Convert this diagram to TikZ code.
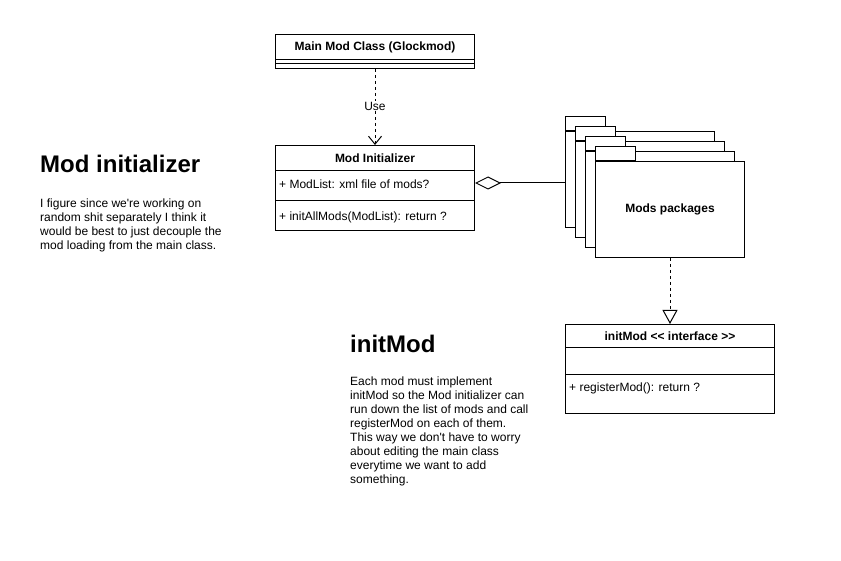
\documentclass[tikz,border=0pt]{standalone}
\usepackage{fontspec}
\setmainfont{Liberation Sans}[Ligatures=TeXOff]
\usetikzlibrary{arrows.meta}
\begin{document}
\begin{tikzpicture}[x=1pt,y=1pt,
  txt/.style={font=\fontsize{12}{14}\selectfont, inner sep=0pt},
  ttl/.style={font=\fontsize{12}{14}\selectfont\bfseries, inner sep=0pt},
  head/.style={font=\fontsize{24}{28}\selectfont\bfseries, inner sep=0pt},
  box/.style={draw, line width=1pt, fill=white, inner sep=0pt, anchor=north west},
  sep/.style={line width=1pt},
  dsh/.style={line width=1pt, dash pattern=on 3pt off 3pt}]
\useasboundingbox (0,0) rectangle (841,-561);

% Main Mod Class
\node[box, minimum width=199pt, minimum height=34pt] (main) at (275,-34) {};
\draw[sep] ([yshift=-26pt]main.north west) -- ([yshift=-26pt]main.north east);
\draw[sep] ([yshift=-30pt]main.north west) -- ([yshift=-30pt]main.north east);
\node[ttl] (maint) at ([yshift=-13pt]main.north) {Main Mod Class (Glockmod)};

% Mod Initializer
\node[box, minimum width=199pt, minimum height=85pt] (mi) at (275,-145) {};
\draw[sep] ([yshift=-26pt]mi.north west) -- ([yshift=-26pt]mi.north east);
\draw[sep] ([yshift=-56pt]mi.north west) -- ([yshift=-56pt]mi.north east);
\node[ttl] (mit) at ([yshift=-13pt]mi.north) {Mod Initializer};
\node[txt, anchor=west] (mia) at (279,-184) {+ ModList: xml file of mods?};
\node[txt, anchor=west] (mim) at (279,-217) {+ initAllMods(ModList): return ?};

% Use arrow
\draw[dsh, -{Straight Barb[length=8pt,width=13pt]}] (main.south) -- (mi.north)
  node[txt, fill=white, inner sep=1pt, pos=0.49] (use) {Use};

% Folders
\foreach \k in {0,...,3} {
  \draw[line width=1pt, fill=white] (565+10*\k,-131-10*\k) rectangle (605+10*\k,-117-10*\k);
  \node[box, minimum width=149pt, minimum height=96pt] (f\k) at (565+10*\k,-131-10*\k) {};
}
\node[ttl] (pkgt) at (f3.center) {Mods packages};

% Aggregation
\coordinate (aggy) at (0,-183);
\draw[line width=1pt, {Diamond[open,length=26pt,width=13pt]}-] (mi.east |- aggy) -- (f0.west |- aggy);

% Interface
\node[box, minimum width=209pt, minimum height=89pt] (im) at (565,-324) {};
\draw[sep] ([yshift=-24pt]im.north west) -- ([yshift=-24pt]im.north east);
\draw[sep] ([yshift=-51pt]im.north west) -- ([yshift=-51pt]im.north east);
\node[ttl] (imt) at ([yshift=-12pt]im.north) {initMod << interface >>};
\node[txt, anchor=west] (imm) at (569,-388) {+ registerMod(): return ?};

% Realization
\draw[dsh, -{Triangle[open,length=14pt,width=15pt]}] (f3.south) -- (im.north);

% Texts
\node[head, anchor=west] (h1) at (40,-164) {Mod initializer};
\node[txt, anchor=north west, align=left] (p1) at (40,-198.5) {I figure since we're working on\\random shit separately I think it\\would be best to just decouple the\\mod loading from the main class.};
\node[head, anchor=west] (h2) at (350,-344) {initMod};
\node[txt, anchor=north west, align=left] (p2) at (350,-376.5) {Each mod must implement\\initMod so the Mod initializer can\\run down the list of mods and call\\registerMod on each of them.\\This way we don't have to worry\\about editing the main class\\everytime we want to add\\something.};
\end{tikzpicture}
\end{document}
